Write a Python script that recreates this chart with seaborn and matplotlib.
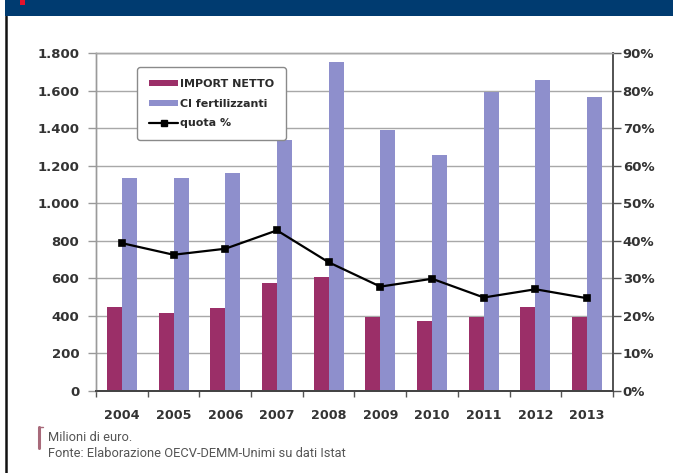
import matplotlib
matplotlib.use("Agg")
import matplotlib.pyplot as plt
import matplotlib.ticker as mticker
from matplotlib.patches import Patch, Rectangle
from matplotlib.lines import Line2D
import numpy as np
import pandas as pd
import seaborn as sns

# ---------------- data ----------------
years = ["2004", "2005", "2006", "2007", "2008", "2009", "2010", "2011", "2012", "2013"]
import_netto = [447, 411, 441, 572, 607, 393, 371, 393, 443, 393]
ci_fertilizzanti = [1135, 1131, 1158, 1335, 1754, 1390, 1254, 1590, 1658, 1563]
quota = [0.393, 0.362, 0.378, 0.427, 0.342, 0.277, 0.298, 0.248, 0.270, 0.246]
series_names = ["IMPORT NETTO", "Cl fertilizzanti", "quota %"]
left_ticks = [0, 200, 400, 600, 800, 1000, 1200, 1400, 1600, 1800]
right_ticks = [0, 0.1, 0.2, 0.3, 0.4, 0.5, 0.6, 0.7, 0.8, 0.9]
note1 = "Milioni di euro."
note2 = "Fonte: Elaborazione OECV-DEMM-Unimi su dati Istat"

# ---------------- style ----------------
sns.set_theme(style="white")
plt.rcParams["font.family"] = ["DejaVu Sans"]

c_imp = "#9B2F68"
c_ci = "#8E8FCC"
W, H = 673, 473

fig = plt.figure(figsize=(W / 100, H / 100), dpi=100)
fig.patch.set_facecolor("white")

left, right = 96 / W, 613 / W
top_px, bot_px = 53, 390.5
ax = fig.add_axes([left, 1 - bot_px / H, right - left, (bot_px - top_px) / H])
ax.set_facecolor("white")

df = pd.DataFrame({
    "year": years * 2,
    "serie": [series_names[0]] * len(years) + [series_names[1]] * len(years),
    "value": import_netto + ci_fertilizzanti,
})
sns.barplot(data=df, x="year", y="value", hue="serie", order=years,
            hue_order=series_names[:2], palette=[c_imp, c_ci],
            width=0.58, gap=0, saturation=1, legend=False, ax=ax,
            edgecolor="none", linewidth=0)

ax.set_ylim(0, 1800)
ax.set_yticks(left_ticks)
ax.yaxis.set_major_formatter(mticker.FuncFormatter(lambda v, p: f"{int(v):,}".replace(",", ".")))
ax.grid(axis="y", color="#A8A8A8", linewidth=1.0)
ax.set_axisbelow(True)
ax.set_xlabel("")
ax.set_ylabel("")

ax2 = ax.twinx()
sns.pointplot(x=years, y=quota, order=years, color="black", markers="s",
              markersize=4.5, linewidth=1.6, errorbar=None, ax=ax2)
ax2.set_ylim(0, 0.9)
ax2.set_yticks(right_ticks)
ax2.yaxis.set_major_formatter(mticker.PercentFormatter(1.0, decimals=0))
ax2.set_ylabel("")
ax2.grid(False)

for a in (ax, ax2):
    a.set_xlim(-0.5, len(years) - 0.5)

# x ticks: labels at categories, small marks at boundaries
ax.set_xticks(np.arange(len(years)))
ax.set_xticklabels(years)
ax.set_xticks(np.arange(len(years) + 1) - 0.5, minor=True)
ax.tick_params(axis="x", which="major", length=0, pad=13, labelsize=9.2,
               labelcolor="#333333")
ax.tick_params(axis="x", which="minor", bottom=True, length=4, width=1,
               color="#555555", direction="out")
ax2.tick_params(axis="x", which="both", bottom=False, top=False)
for lab in ax.get_xticklabels():
    lab.set_fontweight("bold")

ax.tick_params(axis="y", left=True, length=6, width=1, color="#999999",
               pad=6, labelsize=9.5, labelcolor="#333333")
for lab in ax.get_yticklabels():
    lab.set_fontweight("bold")
ax2.tick_params(axis="y", right=True, length=6, width=1, color="#555555",
                pad=1, labelsize=9.5, labelcolor="#333333")
for lab in ax2.get_yticklabels():
    lab.set_fontweight("bold")

for a in (ax, ax2):
    for s in a.spines.values():
        s.set_visible(True)
        s.set_linewidth(1.0)
    a.spines["left"].set_color("#9A9A9A")
    a.spines["top"].set_color("#A8A8A8")
    a.spines["right"].set_color("#555555")
    a.spines["bottom"].set_color("#444444")
    a.spines["right"].set_linewidth(1.3)
    a.spines["bottom"].set_linewidth(1.3)

# legend
handles = [Patch(facecolor=c_imp, edgecolor="none"),
           Patch(facecolor=c_ci, edgecolor="none"),
           Line2D([0], [0], color="black", lw=1.6, marker="s", markersize=4.5)]
leg = ax2.legend(handles, series_names, loc="upper left",
                 bbox_to_anchor=(137 / W, 1 - 67 / H), bbox_transform=fig.transFigure,
                 borderaxespad=0, frameon=True, fancybox=True, framealpha=1,
                 edgecolor="#8A8A8A", facecolor="white",
                 prop={"size": 8, "weight": "bold"}, handlelength=2.6,
                 handleheight=0.45, handletextpad=0.15, labelspacing=0.85,
                 borderpad=1.1, labelcolor="#2A2A2A")
leg.get_frame().set_linewidth(1.0)
leg.get_frame().set_boxstyle("round", pad=0, rounding_size=0.3)

# header band, red mark, left border
fig.patches.append(Rectangle((5 / W, 1 - 16 / H), 1 - 5 / W, 16 / H,
                             transform=fig.transFigure, facecolor="#003B70",
                             edgecolor="none", zorder=5))
fig.patches.append(Rectangle((20 / W, 1 - 5 / H), 5 / W, 5 / H,
                             transform=fig.transFigure, facecolor="#E3122B",
                             edgecolor="none", zorder=6))
fig.lines.append(Line2D([6 / W, 6 / W], [0, 1 - 16 / H], transform=fig.transFigure,
                        color="#111111", linewidth=1.8))

# bracket and notes
bc = "#A86A7A"
fig.lines.append(Line2D([39 / W, 39 / W], [1 - 427 / H, 1 - 448 / H],
                        transform=fig.transFigure, color=bc, linewidth=2.2))
fig.lines.append(Line2D([39 / W, 43 / W], [1 - 427 / H, 1 - 427 / H],
                        transform=fig.transFigure, color=bc, linewidth=1.0))
fig.text(48 / W, 1 - 437 / H, note1, family=["Roboto", "DejaVu Sans"], fontsize=9.3,
         color="#555555", va="center", ha="left")
fig.text(48 / W, 1 - 453 / H, note2, family=["Roboto", "DejaVu Sans"], fontsize=9.3,
         color="#555555", va="center", ha="left")

fig.savefig("out.png", dpi=100, facecolor="white")
